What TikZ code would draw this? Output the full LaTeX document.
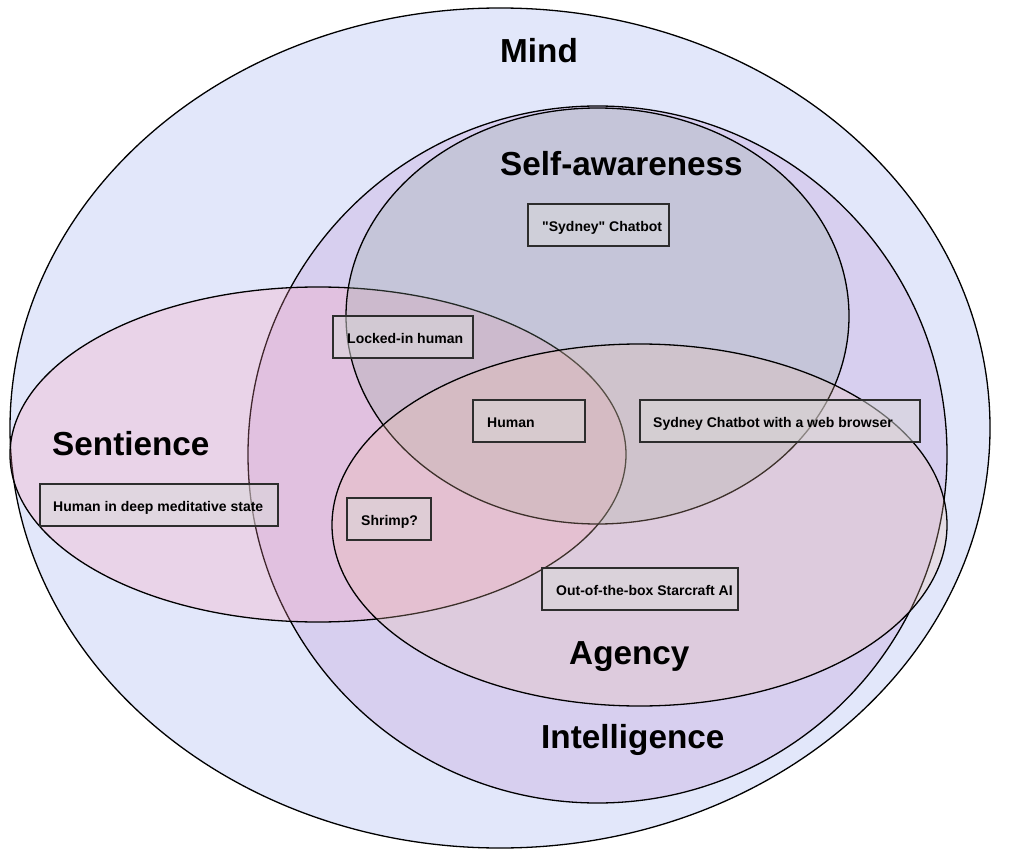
\documentclass[tikz,border=0pt]{standalone}
\usepackage{fontspec}
\setmainfont{Liberation Sans}[Ligatures=TeXOff]
\definecolor{mindc}{RGB}{226,231,250}
\definecolor{intc}{RGB}{186,139,210}
\definecolor{sentc}{RGB}{255,155,180}
\definecolor{selfc}{RGB}{144,168,152}
\definecolor{agc}{RGB}{240,192,168}
\definecolor{boxfill}{RGB}{217,217,217}
\definecolor{boxline}{RGB}{45,45,45}
\tikzset{
  ell/.style={draw=black, line width=1.3pt},
  setlabel/.style={font=\fontsize{33.3}{40}\selectfont\bfseries, inner sep=0pt, anchor=base west},
  itembox/.style={draw=boxline, line width=1.6pt, fill=boxfill, fill opacity=0.5, anchor=north west, inner sep=0pt, minimum height=42pt},
  itemlabel/.style={font=\fontsize{14}{16}\selectfont\bfseries, inner sep=0pt, text height=14pt, text depth=0pt, anchor=west},
}
\begin{document}
\begin{tikzpicture}[x=1pt,y=-1pt]
\useasboundingbox (0,0) rectangle (1011,858);
\fill[white] (0,0) rectangle (1011,858);
% ellipses
\draw[ell, fill=mindc] (500,428) ellipse [x radius=490pt, y radius=420pt];
\draw[ell, fill=intc, fill opacity=0.25] (597.5,454.5) ellipse [x radius=349.5pt, y radius=348.5pt];
\draw[ell, fill=sentc, fill opacity=0.25] (318,454.5) ellipse [x radius=308pt, y radius=167.5pt];
\draw[ell, fill=selfc, fill opacity=0.25] (597.5,316) ellipse [x radius=251.5pt, y radius=208pt];
\draw[ell, fill=agc, fill opacity=0.25] (639.5,525) ellipse [x radius=307.5pt, y radius=181pt];
% set labels
\node[setlabel] (mind) at (500,63) {Mind};
\node[setlabel] (selfaw) at (500,176) {Self-awareness};
\node[setlabel] (sent) at (52,455) {Sentience};
\node[setlabel] (agency) at (569,664) {Agency};
\node[setlabel] (intel) at (541,748) {Intelligence};
% item boxes
\node[itembox, minimum width=141pt] (b1) at (527,203) {};
\node[itemlabel] (t1) at ([xshift=15pt]b1.west) {"Sydney" Chatbot};
\node[itembox, minimum width=140pt] (b2) at (332,315) {};
\node[itemlabel] (t2) at ([xshift=15pt]b2.west) {Locked-in human};
\node[itembox, minimum width=112pt] (b3) at (472,399) {};
\node[itemlabel] (t3) at ([xshift=15pt]b3.west) {Human};
\node[itembox, minimum width=84pt] (b4) at (346,497) {};
\node[itemlabel] (t4) at ([xshift=15pt]b4.west) {Shrimp?};
\node[itembox, minimum width=280pt] (b5) at (639,399) {};
\node[itemlabel] (t5) at ([xshift=14pt]b5.west) {Sydney Chatbot with a web browser};
\node[itembox, minimum width=238pt] (b6) at (39,483) {};
\node[itemlabel] (t6) at ([xshift=14pt]b6.west) {Human in deep meditative state};
\node[itembox, minimum width=196pt] (b7) at (541,567) {};
\node[itemlabel] (t7) at ([xshift=15pt]b7.west) {Out-of-the-box Starcraft AI};
\end{tikzpicture}
\end{document}
